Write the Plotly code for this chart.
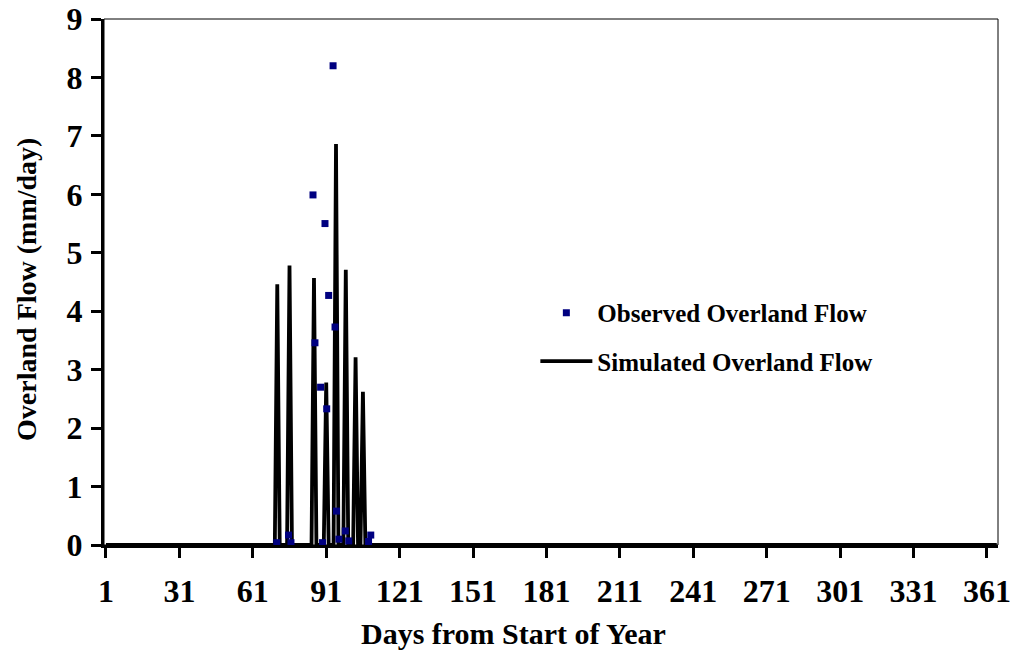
import plotly.graph_objects as go

# Simulated overland flow (daily; zero on all days not listed between the points)
sim_days = [1, 70, 71, 72, 75, 76, 77, 85, 86, 87, 90, 91, 92, 94, 95, 96,
            98, 99, 100, 102, 103, 104, 105, 106, 107, 365]
sim_vals = [0, 0, 4.46, 0, 0, 4.78, 0, 0, 4.57, 0, 0, 2.78, 0, 0, 6.86, 0,
            0, 4.71, 0, 0, 3.21, 0, 0, 2.62, 0, 0]

# Observed overland flow
obs_days = [70.8, 75.6, 76.6, 85.6, 86.4, 88.7, 89.5, 90.5, 91.2, 92.0,
            93.8, 94.6, 95.2, 96.2, 98.8, 100.2, 108.3, 109.2]
obs_vals = [0.04, 0.17, 0.04, 5.99, 3.46, 2.70, 0.04, 5.50, 2.33, 4.27,
            8.20, 3.73, 0.58, 0.10, 0.24, 0.07, 0.06, 0.17]

x_ticks = [1, 31, 61, 91, 121, 151, 181, 211, 241, 271, 301, 331, 361]
y_ticks = [0, 1, 2, 3, 4, 5, 6, 7, 8, 9]

FONT = "Liberation Serif"

fig = go.Figure()
fig.add_trace(go.Scatter(
    x=sim_days, y=sim_vals, mode="lines", name="Simulated Overland Flow",
    line=dict(color="black", width=3.8), legendrank=2, legendgroup="s",
))
fig.add_trace(go.Scatter(
    x=obs_days, y=obs_vals, mode="markers", name="Observed Overland Flow",
    marker=dict(symbol="square", size=7, color="#000080"), legendrank=1,
    legendgroup="o",
))

fig.update_layout(
    width=1013, height=654,
    margin=dict(l=104, r=15, t=19, b=109),
    paper_bgcolor="white", plot_bgcolor="white",
    font=dict(family=FONT, color="black"),
    showlegend=True,
    legend=dict(
        x=0.4825, y=0.485, xanchor="left", yanchor="top",
        font=dict(family=FONT, size=25, color="black", weight="bold"),
        bgcolor="rgba(0,0,0,0)", tracegroupgap=13, itemwidth=52,
    ),
    xaxis=dict(
        range=[0.2, 365.5], tickmode="array", tickvals=x_ticks,
        ticktext=[str(v) for v in x_ticks], automargin=False,
        showgrid=False, zeroline=False, showline=True, linecolor="black",
        linewidth=3, ticks="outside", ticklen=10, tickwidth=3,
        tickcolor="black", ticklabelstandoff=6,
        tickfont=dict(family=FONT, size=32, color="black", weight="bold"),
    ),
    yaxis=dict(
        range=[0, 9], tickmode="array", tickvals=y_ticks, automargin=False,
        showgrid=False, zeroline=False, showline=True, linecolor="black",
        linewidth=3, ticks="outside", ticklen=10, tickwidth=3,
        tickcolor="black", ticklabelstandoff=2,
        tickfont=dict(family=FONT, size=32, color="black", weight="bold"),
    ),
    shapes=[dict(type="rect", xref="paper", yref="paper", x0=0, x1=1, y0=0, y1=1,
                 line=dict(color="black", width=1), layer="below")],
    annotations=[
        dict(text="Days from Start of Year", xref="paper", yref="paper",
             x=0.4575, y=-0.169, xanchor="center", yanchor="middle",
             showarrow=False,
             font=dict(family=FONT, size=30, color="black", weight="bold")),
        dict(text="Overland Flow (mm/day)", xref="paper", yref="paper",
             x=-0.0861, y=0.485, xanchor="center", yanchor="middle",
             textangle=-90, showarrow=False,
             font=dict(family=FONT, size=28, color="black", weight="bold")),
    ],
)

fig.write_html("out.html")
